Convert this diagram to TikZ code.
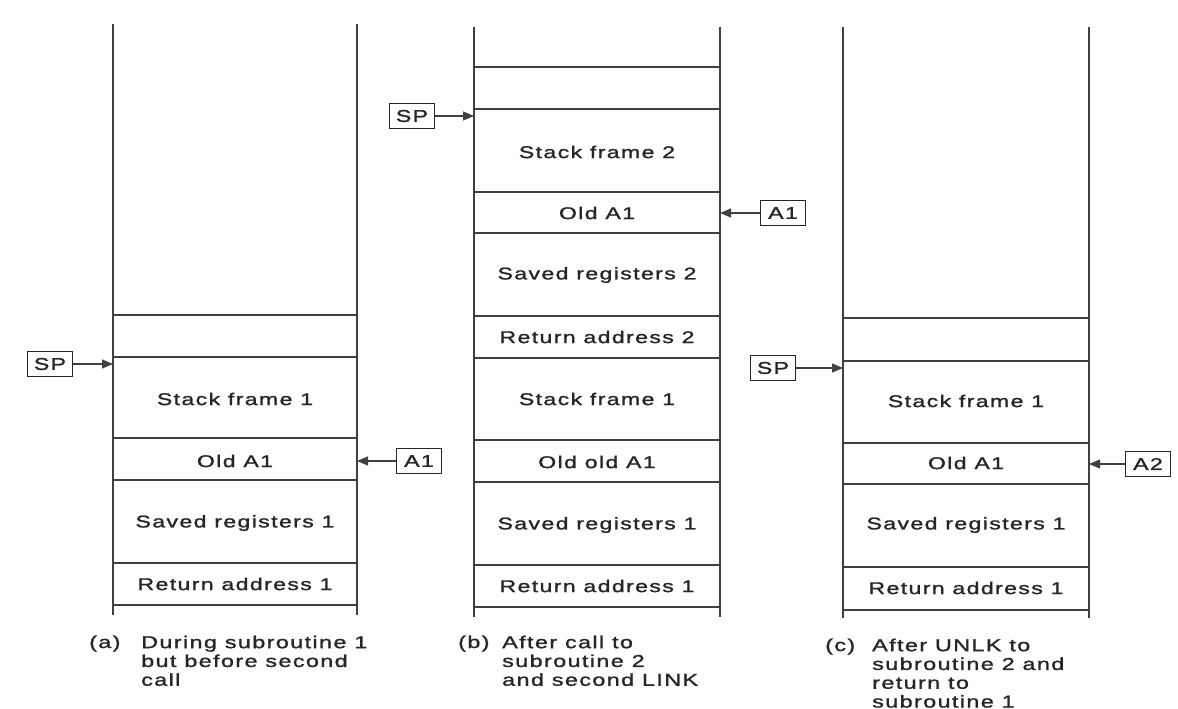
\documentclass[tikz,border=0pt]{standalone}
\usepackage{fontspec}
\setmainfont{Liberation Sans}[FakeStretch=1.36,LetterSpace=8,FakeBold=1.3]
\usetikzlibrary{arrows.meta}
\definecolor{lc}{gray}{0.25}
\definecolor{tc}{gray}{0.15}
\begin{document}
\begin{tikzpicture}[x=1pt,y=-1pt,
  wall/.style={draw=lc, line width=1.4pt},
  cell/.style={font=\fontsize{17}{19}\selectfont, text=tc, inner sep=0pt},
  reg/.style={draw=black!85, line width=1.9pt, font=\fontsize{17}{19}\selectfont, text=tc,
              minimum width=45pt, minimum height=25pt, inner sep=2pt},
  ptr/.style={draw=lc, line width=1.1pt, -{Triangle[length=11pt,width=9pt]}},
  capt/.style={font=\fontsize{17.2}{18.8}\selectfont, text=tc, inner sep=0pt, align=left}]
\useasboundingbox (0,0) rectangle (1178,709);
\fill[white] (0,0) rectangle (1178,709);

% ---------- stack (a)
\draw[wall] (113,24) -- (113,615) (357,24) -- (357,615);
\foreach \y in {315,357,438,480,563,605} \draw[wall] (113,\y) -- (357,\y);
\node[cell] (a-sf1) at (235,399) {Stack frame 1};
\node[cell] (a-old) at (235,461) {Old A1};
\node[cell] (a-sr1) at (235,523) {Saved registers 1};
\node[cell] (a-ra1) at (235,584) {Return address 1};
\node[reg] (a-sp) at (50,364) {SP};
\coordinate (a-spt) at (113,364);
\draw[ptr] (a-sp) -- (a-spt);
\node[reg] (a-a1) at (419,461) {A1};
\coordinate (a-a1t) at (357,461);
\draw[ptr] (a-a1) -- (a-a1t);

% ---------- stack (b)
\draw[wall] (474,27) -- (474,617) (720,27) -- (720,617);
\foreach \y in {67,109,192,233,316,358,440,482,565,607} \draw[wall] (474,\y) -- (720,\y);
\node[cell] (b-sf2) at (597,152) {Stack frame 2};
\node[cell] (b-old) at (597,213) {Old A1};
\node[cell] (b-sr2) at (597,275) {Saved registers 2};
\node[cell] (b-ra2) at (597,337) {Return address 2};
\node[cell] (b-sf1) at (597,399) {Stack frame 1};
\node[cell] (b-oold) at (597,462) {Old old A1};
\node[cell] (b-sr1) at (597,525) {Saved registers 1};
\node[cell] (b-ra1) at (597,586) {Return address 1};
\node[reg] (b-sp) at (412,116) {SP};
\coordinate (b-spt) at (474,116);
\draw[ptr] (b-sp) -- (b-spt);
\node[reg] (b-a1) at (783,213) {A1};
\coordinate (b-a1t) at (720,213);
\draw[ptr] (b-a1) -- (b-a1t);

% ---------- stack (c)
\draw[wall] (843,27) -- (843,618) (1089,27) -- (1089,618);
\foreach \y in {318,361,443,484,567,610} \draw[wall] (843,\y) -- (1089,\y);
\node[cell] (c-sf1) at (966,401) {Stack frame 1};
\node[cell] (c-old) at (966,463) {Old A1};
\node[cell] (c-sr1) at (966,525) {Saved registers 1};
\node[cell] (c-ra1) at (966,588) {Return address 1};
\node[reg] (c-sp) at (773,368) {SP};
\coordinate (c-spt) at (843,368);
\draw[ptr] (c-sp) -- (c-spt);
\node[reg] (c-a2) at (1148,464) {A2};
\coordinate (c-a2t) at (1089,464);
\draw[ptr] (c-a2) -- (c-a2t);

% ---------- captions
\node[capt, anchor=base west] (a-lab) at (89,648) {(a)};
\node[capt, anchor=north west] (a-cap) at (141,635.5) {During subroutine 1\\but before second\\call};
\node[capt, anchor=base west] (b-lab) at (458,648) {(b)};
\node[capt, anchor=north west] (b-cap) at (502,635.5) {After call to\\subroutine 2\\and second LINK};
\node[capt, anchor=base west] (c-lab) at (825,651) {(c)};
\node[capt, anchor=north west] (c-cap) at (872,638.5) {After UNLK to\\subroutine 2 and\\return to\\subroutine 1};
\end{tikzpicture}
\end{document}
